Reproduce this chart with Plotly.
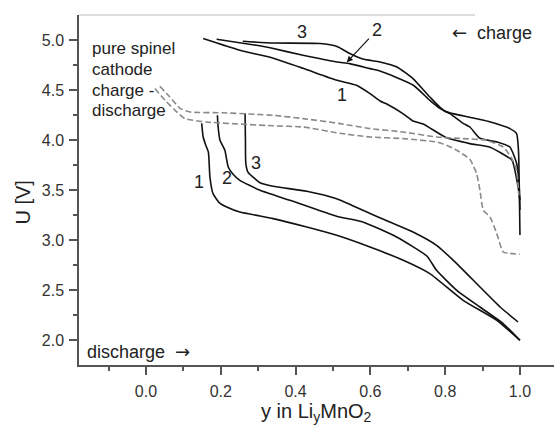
import plotly.graph_objects as go

# ---------------- data ----------------
# charge curves (solid)
charge1_x = [0.153, 0.251, 0.332, 0.420, 0.511, 0.563, 0.599, 0.626, 0.644, 0.687, 0.714, 0.741, 0.804, 0.866, 0.920, 0.955, 0.979, 0.995, 1.000]
charge1_y = [5.014, 4.897, 4.827, 4.717, 4.597, 4.547, 4.464, 4.390, 4.360, 4.264, 4.190, 4.160, 4.022, 3.964, 3.927, 3.857, 3.797, 3.530, 3.400]

charge2_x = [0.189, 0.296, 0.332, 0.420, 0.511, 0.545, 0.599, 0.626, 0.714, 0.759, 0.786, 0.813, 0.848, 0.866, 0.893, 0.939, 0.973, 0.991, 0.998, 1.000]
charge2_y = [5.007, 4.947, 4.922, 4.847, 4.780, 4.764, 4.714, 4.690, 4.550, 4.397, 4.317, 4.264, 4.167, 4.130, 4.017, 3.980, 3.930, 3.767, 3.527, 3.300]

charge3_x = [0.259, 0.340, 0.465, 0.511, 0.545, 0.580, 0.626, 0.671, 0.714, 0.759, 0.799, 0.866, 0.914, 0.973, 0.991, 0.996, 0.998, 1.000]
charge3_y = [4.987, 4.970, 4.965, 4.935, 4.865, 4.810, 4.780, 4.730, 4.614, 4.430, 4.287, 4.227, 4.187, 4.114, 4.064, 3.897, 3.567, 3.050]

# discharge curves (solid)
dis1_x = [0.149, 0.153, 0.160, 0.167, 0.171, 0.179, 0.195, 0.216, 0.251, 0.340, 0.430, 0.510, 0.599, 0.688, 0.759, 0.848, 0.938, 1.000]
dis1_y = [4.167, 4.030, 3.947, 3.877, 3.630, 3.467, 3.377, 3.330, 3.280, 3.214, 3.130, 3.047, 2.930, 2.797, 2.664, 2.397, 2.197, 1.997]

dis2_x = [0.191, 0.193, 0.198, 0.211, 0.220, 0.233, 0.251, 0.305, 0.385, 0.510, 0.580, 0.670, 0.751, 0.777, 0.831, 0.893, 0.955, 1.000]
dis2_y = [4.247, 4.130, 3.997, 3.897, 3.730, 3.657, 3.597, 3.497, 3.397, 3.237, 3.180, 3.030, 2.840, 2.697, 2.497, 2.330, 2.164, 1.997]

dis3_x = [0.265, 0.266, 0.267, 0.273, 0.287, 0.305, 0.340, 0.430, 0.510, 0.580, 0.652, 0.714, 0.777, 0.831, 0.893, 0.947, 0.995]
dis3_y = [4.267, 3.997, 3.767, 3.677, 3.627, 3.572, 3.537, 3.487, 3.412, 3.297, 3.180, 3.080, 2.947, 2.764, 2.530, 2.330, 2.180]

# pure spinel charge / discharge (dashed)
spinel_a_x = [0.037, 0.064, 0.091, 0.118, 0.206, 0.340, 0.420, 0.519, 0.599, 0.687, 0.777, 0.848, 0.911, 0.955, 0.978, 0.991, 0.997]
spinel_a_y = [4.537, 4.430, 4.317, 4.280, 4.272, 4.247, 4.214, 4.164, 4.114, 4.080, 4.030, 4.014, 3.997, 3.930, 3.817, 3.697, 3.447]

spinel_b_x = [0.024, 0.051, 0.078, 0.104, 0.162, 0.340, 0.420, 0.519, 0.599, 0.687, 0.777, 0.804, 0.831, 0.866, 0.884, 0.893, 0.902, 0.920, 0.938, 0.955, 0.973, 1.000]
spinel_b_y = [4.514, 4.397, 4.297, 4.214, 4.180, 4.142, 4.130, 4.067, 4.030, 4.014, 3.980, 3.947, 3.897, 3.807, 3.664, 3.497, 3.297, 3.230, 3.064, 2.880, 2.867, 2.857]

y_tickvals = [2.0, 2.5, 3.0, 3.5, 4.0, 4.5, 5.0]
y_ticktext = ["2.0", "2.5", "3.0", "3.5", "4.0", "4.5", "5.0"]
x_tickvals = [0.0, 0.2, 0.4, 0.6, 0.8, 1.0]
x_ticktext = ["0.0", "0.2", "0.4", "0.6", "0.8", "1.0"]

# ---------------- figure ----------------
FONT = "Liberation Sans, Arial, sans-serif"
ARROW = "<span style='font-family:DejaVu Sans'>%s</span>"
fig = go.Figure()

solid = dict(color="#111111", width=1.6)
for xs, ys in [(charge1_x, charge1_y), (charge2_x, charge2_y), (charge3_x, charge3_y),
               (dis1_x, dis1_y), (dis2_x, dis2_y), (dis3_x, dis3_y)]:
    fig.add_trace(go.Scatter(x=xs, y=ys, mode="lines", line=dict(**solid, shape="spline", smoothing=0.5),
                             showlegend=False, hoverinfo="skip"))

dashed = dict(color="#8a8a8a", width=1.6, dash="6px,3px")
for xs, ys in [(spinel_a_x, spinel_a_y), (spinel_b_x, spinel_b_y)]:
    fig.add_trace(go.Scatter(x=xs, y=ys, mode="lines", line=dict(**dashed, shape="spline", smoothing=0.5),
                             showlegend=False, hoverinfo="skip"))

txt = dict(family=FONT, size=17, color="#222222")
ann = []
for t, x, y in [("pure spinel", -0.149, 4.917), ("cathode", -0.149, 4.707),
                ("charge -", -0.149, 4.497), ("discharge", -0.149, 4.297)]:
    ann.append(dict(x=x, y=y, xref="x", yref="y", text=t, showarrow=False,
                    xanchor="left", yanchor="middle", font=txt))
ann.append(dict(x=-0.163, y=1.887, xref="x", yref="y", text="discharge  " + ARROW % "→", showarrow=False,
                xanchor="left", yanchor="middle", font=dict(family=FONT, size=18, color="#222222")))
ann.append(dict(x=0.924, y=5.072, xref="x", yref="y", text=ARROW % "←" + "  charge", showarrow=False,
                xanchor="center", yanchor="middle", font=dict(family=FONT, size=18, color="#222222")))
num = dict(family=FONT, size=18, color="#222222")
for t, x, y in [("3", 0.417, 5.077), ("1", 0.524, 4.447),
                ("1", 0.142, 3.577), ("2", 0.217, 3.617), ("3", 0.294, 3.767)]:
    ann.append(dict(x=x, y=y, xref="x", yref="y", text=t, showarrow=False, font=num))
ann.append(dict(x=0.537, y=4.777, xref="x", yref="y", text="2", showarrow=True,
                ax=30, ay=-32, arrowhead=2, arrowsize=1, arrowwidth=1.2,
                arrowcolor="#111111", font=num, standoff=0, startstandoff=2))
# axis titles
ann.append(dict(x=0.5, y=0, xref="paper", yref="paper", yshift=-47, text="y in Li<sub>y</sub>MnO<sub>2</sub>",
                showarrow=False, xanchor="center", yanchor="middle",
                font=dict(family=FONT, size=20, color="#222222")))
ann.append(dict(x=0, y=0.464, xref="paper", yref="paper", xshift=-56, text="U [V]", textangle=-90,
                showarrow=False, xanchor="center", yanchor="middle",
                font=dict(family=FONT, size=20, color="#222222")))

axis_common = dict(showline=True, linecolor="#555555", linewidth=1.5, ticks="outside",
                   tickcolor="#555555", tickwidth=1.5, ticklen=8, showgrid=False, zeroline=False,
                   tickfont=dict(family=FONT, size=16, color="#333333"), mirror=False)

fig.update_layout(
    width=554, height=425,
    margin=dict(l=79, r=0, t=15, b=60),
    paper_bgcolor="white", plot_bgcolor="white",
    showlegend=False,
    annotations=ann,
    xaxis=dict(range=[-0.179, 1.091], tickmode="array", tickvals=x_tickvals, ticktext=x_ticktext,
               minor=dict(ticks="outside", ticklen=4, tickcolor="#555555", tickwidth=1.5,
                          tickmode="array", tickvals=[-0.1, 0.1, 0.3, 0.5, 0.7, 0.9]),
               ticklabelstandoff=3, **axis_common),
    yaxis=dict(range=[1.75, 5.25], tickmode="array", tickvals=y_tickvals, ticktext=y_ticktext,
               minor=dict(ticks="outside", ticklen=4, tickcolor="#555555", tickwidth=1.5,
                          tickmode="array", tickvals=[2.25, 2.75, 3.25, 3.75, 4.25, 4.75]),
               ticklabelstandoff=2, **axis_common),
    shapes=[dict(type="line", xref="paper", yref="paper", x0=0, x1=0.834, y0=1, y1=1,
                 line=dict(color="#bbbbbb", width=1))],
)

fig.write_html("out.html")
